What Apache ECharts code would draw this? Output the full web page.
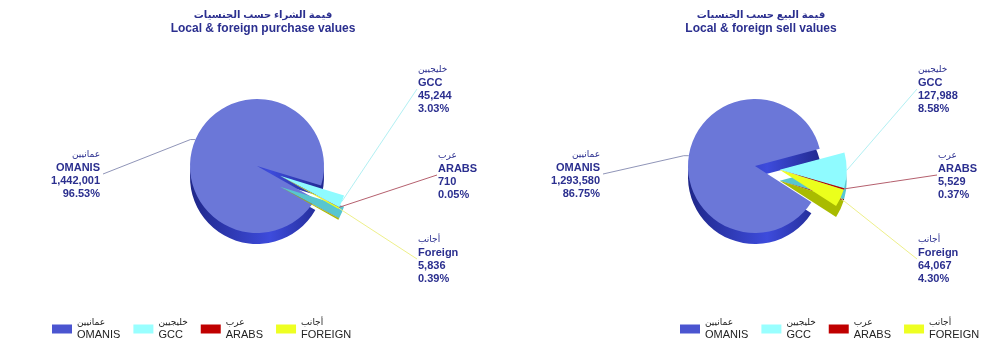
<!DOCTYPE html>
<html><head><meta charset="utf-8">
<script src="https://cdn.jsdelivr.net/npm/echarts@6/dist/echarts.min.js"></script>
<style>html,body{margin:0;padding:0;background:#fff}#c{width:1000px;height:361px}</style>
</head><body><div id="c"></div>
<script>
// ---- data ----
const categoriesEn = ['OMANIS', 'GCC', 'ARABS', 'FOREIGN'];
const categoriesAr = ['عمانيين', 'خليجيين', 'عرب', 'أجانب'];
const labelNamesEn = ['OMANIS', 'GCC', 'ARABS', 'Foreign'];
const purchaseValues = [1442001, 45244, 710, 5836];
const sellValues = [1293580, 127988, 5529, 64067];
const titlesAr = ['قيمة الشراء حسب الجنسيات', 'قيمة البيع حسب الجنسيات'];
const titlesEn = ['Local & foreign purchase values', 'Local & foreign sell values'];

// ---- styles ----
const FONT = 'Arial, "Liberation Sans", "DejaVu Sans", sans-serif';
const NAVY = '#2b2f8f';
const topColors = ['#6b77d8', '#8ffbff', '#c00000', '#ebff1c'];
const omaniSide = {
  type: 'linear', x: 0, y: 0, x2: 1, y2: 0,
  colorStops: [{ offset: 0, color: '#1f2788' }, { offset: 0.6, color: '#3d4bdc' }, { offset: 1, color: '#222a90' }]
};
const sideColors = [omaniSide, '#58c6cf', '#7a0000', '#a9bb00'];
const legendColors = ['#4b55d0', '#99ffff', '#c00000', '#eeff22'];
const lineColors = ['#9095b8', '#b2f0f3', '#b5606e', '#eef08a'];
const order = [1, 2, 3, 0]; // drawing order clockwise from start angle
const cy = 166, R = 67, depth = 11, explode = 25;

const charts = [
  { values: purchaseValues, cx: 257, start: -17, legendLeft: 47, omanisDx: -157, gccDx: 161, arabsDx: 181 },
  { values: sellValues, cx: 755, start: 15, legendLeft: 675, omanisDx: -155, gccDx: 163, arabsDx: 183 }
];

function fmt(v) { return v.toLocaleString('en-US'); }

const series = [];
const titles = [];
const legends = [];
charts.forEach((c, k) => {
  // explode direction: middle angle of the non-Omani group
  const total = c.values.reduce((a, b) => a + b, 0);
  const groupShare = (total - c.values[0]) / total;
  const mid = (c.start - groupShare * 180) * Math.PI / 180;
  const ex = explode * Math.cos(mid), ey = -explode * Math.sin(mid);

  const labelPos = {
    0: { x: c.cx + c.omanisDx, y: 174, align: 'right' },
    1: { x: c.cx + c.gccDx, y: 89, align: 'left' },
    2: { x: c.cx + c.arabsDx, y: 175, align: 'left' },
    3: { x: c.cx + c.gccDx, y: 259, align: 'left' }
  };

  const mk = (side, exploded) => ({
    type: 'pie',
    center: [c.cx + (exploded ? ex : 0), cy + (side ? depth : 0) + (exploded ? ey : 0)],
    radius: R,
    startAngle: c.start,
    clockwise: true,
    animation: false,
    silent: true,
    avoidLabelOverlap: false,
    selectedMode: false,
    emphasis: { disabled: true },
    label: side ? { show: false } : {
      show: true,
      position: 'outside',
      color: NAVY,
      formatter: p => {
        const i = order[p.dataIndex];
        return '{ar|' + categoriesAr[i] + '}\n{b|' + labelNamesEn[i] + '}\n{b|' + fmt(p.value) + '}\n{b|' + p.percent.toFixed(2) + '%}';
      },
      rich: {
        ar: { fontSize: 9, fontFamily: FONT, color: NAVY, lineHeight: 13 },
        b: { fontSize: 11, fontWeight: 'bold', fontFamily: FONT, color: NAVY, lineHeight: 13 }
      }
    },
    labelLine: side ? { show: false } : { show: true, length: 10, length2: 10, lineStyle: { width: 1 } },
    labelLayout: side ? undefined : (p) => {
      const i = order[p.dataIndex];
      const lp = labelPos[i];
      const res = { x: lp.x, y: lp.y, align: lp.align, verticalAlign: 'middle' };
      if (p.labelLinePoints && p.labelLinePoints.length) {
        const p0 = p.labelLinePoints[0];
        const endX = lp.align === 'right' ? lp.x + 3 : lp.x - 1;
        const bend = i === 0 ? [p0[0] - 5, p0[1]] : [(p0[0] + endX) / 2, (p0[1] + lp.y) / 2];
        res.labelLinePoints = [p0, bend, [endX, lp.y]];
      }
      return res;
    },
    data: order.map(i => {
      const visible = exploded ? i !== 0 : i === 0;
      return {
        name: categoriesEn[i],
        value: c.values[i],
        itemStyle: { color: visible ? (side ? sideColors[i] : topColors[i]) : 'rgba(0,0,0,0)' },
        label: { show: visible && !side },
        labelLine: { show: visible && !side, lineStyle: { color: lineColors[i] } }
      };
    })
  });
  // drawing order: side of main, top of main, side of exploded, top of exploded
  const s1 = mk(true, false); s1.z = 1;
  const s2 = mk(false, false); s2.z = 2;
  const s3 = mk(true, true); s3.z = 3;
  const s4 = mk(false, true); s4.z = 4;
  series.push(s1, s2, s3, s4);

  titles.push({
    text: titlesAr[k], subtext: titlesEn[k],
    left: c.cx + 1, top: 3, textAlign: 'center', itemGap: 0,
    textStyle: { fontSize: 10, fontWeight: 'bold', color: NAVY, fontFamily: FONT, lineHeight: 14 },
    subtextStyle: { fontSize: 12, fontWeight: 'bold', color: NAVY, fontFamily: FONT, lineHeight: 14 }
  });
  legends.push({
    left: c.legendLeft, top: 313, orient: 'horizontal',
    itemWidth: 20, itemHeight: 9, itemGap: 13, icon: 'rect',
    selectedMode: false,
    data: categoriesEn.map((n, i) => ({ name: n, itemStyle: { color: legendColors[i] } })),
    formatter: n => '{ar|' + categoriesAr[categoriesEn.indexOf(n)] + '}\n{en|' + n + '}',
    textStyle: {
      rich: {
        ar: { fontSize: 9, fontFamily: FONT, color: '#222', lineHeight: 12 },
        en: { fontSize: 11, fontFamily: FONT, color: '#222', lineHeight: 13 }
      }
    }
  });
});

const chart = echarts.init(document.getElementById('c'), null, { renderer: 'canvas' });
chart.setOption({
  backgroundColor: '#fff',
  animation: false,
  title: titles,
  legend: legends,
  series: series
});
</script>
</body></html>
